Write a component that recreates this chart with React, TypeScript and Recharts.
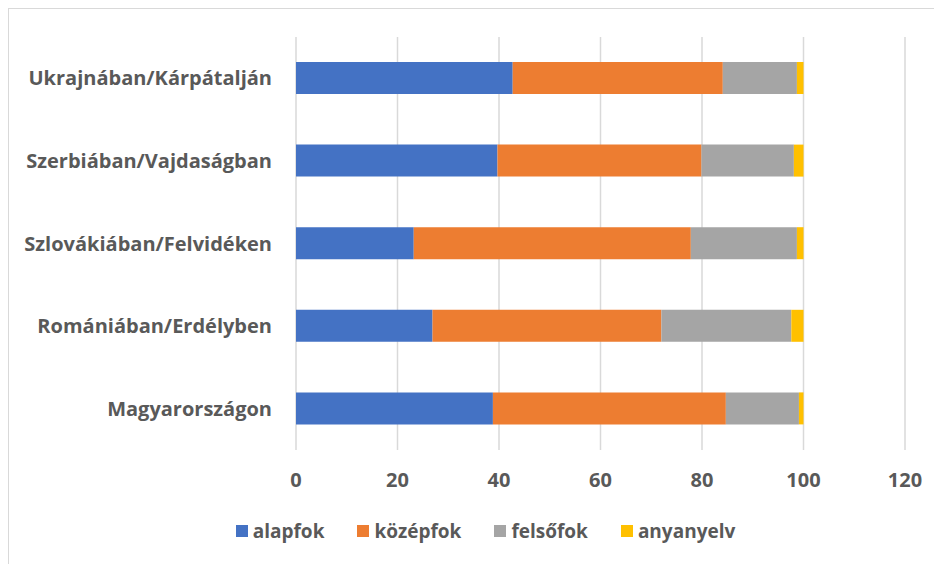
import React from 'react';
import { BarChart, Bar, XAxis, YAxis, CartesianGrid, Legend } from 'recharts';

const categories = [
  'Ukrajnában/Kárpátalján',
  'Szerbiában/Vajdaságban',
  'Szlovákiában/Felvidéken',
  'Romániában/Erdélyben',
  'Magyarországon',
];
const alapfok = [42.7, 39.7, 23.2, 26.9, 38.8];
const kozepfok = [41.4, 40.2, 54.6, 45.1, 45.9];
const felsofok = [14.6, 18.2, 20.9, 25.6, 14.4];
const anyanyelv = [1.3, 1.9, 1.3, 2.4, 0.9];
const xTicks = [0, 20, 40, 60, 80, 100, 120];

const seriesNames = ['alapfok', 'középfok', 'felsőfok', 'anyanyelv'];
const seriesColors = ['#4472C4', '#ED7D31', '#A5A5A5', '#FFC000'];

const data = categories.map((c, i) => ({
  name: c,
  alapfok: alapfok[i],
  'középfok': kozepfok[i],
  'felsőfok': felsofok[i],
  anyanyelv: anyanyelv[i],
}));

const FONT = '"Open Sans", Lato, sans-serif';

const renderLegend = () => {
  return (
    <div style={{ display: 'flex', justifyContent: 'center', paddingLeft: 20, fontFamily: FONT, height: 26, alignItems: 'center' }}>
      {seriesNames.map((s, i) => (
        <div key={s} style={{ display: 'flex', alignItems: 'center', marginRight: i < seriesNames.length - 1 ? 33 : 0 }}>
          <div style={{ width: 12, height: 12, background: seriesColors[i], marginRight: 5 }} />
          <span style={{ color: '#595959', fontSize: 19, fontWeight: 700, lineHeight: '26px' }}>{s}</span>
        </div>
      ))}
    </div>
  );
};

export default function App() {
  return (
    <div
      style={{
        width: 934,
        height: 556,
        borderTop: '1px solid #d9d9d9',
        borderLeft: '1px solid #d9d9d9',
        overflow: 'hidden',
        background: '#fff',
      }}
    >
      <BarChart
        width={933}
        height={555}
        data={data}
        layout="vertical"
        margin={{ top: 28, right: 37, bottom: 48, left: 0 }}
        barSize={32}
      >
        <CartesianGrid horizontal={false} stroke="#d9d9d9" strokeWidth={1.5} />
        <XAxis
          type="number"
          domain={[0, 120]}
          ticks={xTicks}
          axisLine={false}
          tickLine={false}
          tickMargin={17}
          height={40}
          tick={{ fill: '#595959', fontSize: 20, fontWeight: 700, fontFamily: FONT }}
          interval={0}
        />
        <YAxis
          type="category"
          dataKey="name"
          width={287}
          axisLine={false}
          tickLine={false}
          tickMargin={18}
          tick={{ fill: '#595959', fontSize: 20, fontWeight: 700, fontFamily: FONT }}
          interval={0}
        />
        <Legend
          content={renderLegend}
          verticalAlign="bottom"
          wrapperStyle={{ left: 0, width: 933, top: 509 }}
        />
        {seriesNames.map((s, i) => (
          <Bar key={s} dataKey={s} stackId="a" fill={seriesColors[i]} isAnimationActive={false} />
        ))}
      </BarChart>
    </div>
  );
}
